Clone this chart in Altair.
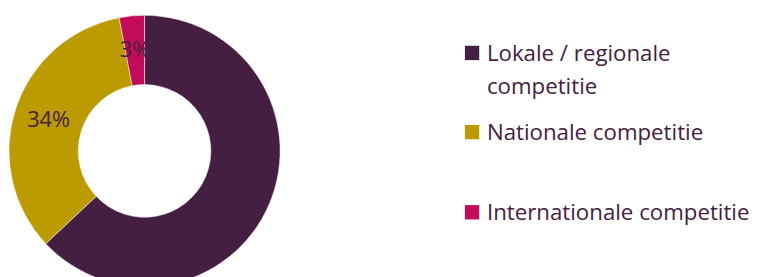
import altair as alt
import pandas as pd

categories = ["Lokale / regionale competitie", "Nationale competitie", "Internationale competitie"]
values = [63, 34, 3]
colors = ["#451f42", "#bb9b00", "#c20b5b"]
legend_lines = [["Lokale / regionale", "competitie"], ["Nationale competitie"], ["Internationale competitie"]]

TEXT = "#45203f"
FONT = "Open Sans"
CX, CY = 138, 143

df = pd.DataFrame({
    "cat": categories,
    "value": values,
    "order": list(range(len(values))),
    "label": [f"{v}%" for v in values],
})

color_scale = alt.Scale(domain=categories, range=colors)

base = alt.Chart(df).encode(
    theta=alt.Theta("value:Q", stack=True),
    order=alt.Order("order:Q"),
)
arcs = base.mark_arc(outerRadius=137, innerRadius=67, stroke="white", strokeWidth=0.5).encode(
    color=alt.Color("cat:N", scale=color_scale, legend=None),
    x=alt.value(CX), y=alt.value(CY),
)
labels = base.mark_text(radius=102, fontSize=22, font=FONT, color=TEXT).encode(
    text="label:N", x=alt.value(CX), y=alt.value(CY),
)

layers = [arcs, labels]
sym_y = [44, 124, 205]
txt_y = [52, 132, 213]
for i, cat in enumerate(categories):
    ldf = pd.DataFrame({"cat": [cat], "text": [legend_lines[i]]})
    sq = alt.Chart(ldf).mark_square(size=210, opacity=1).encode(
        x=alt.value(469), y=alt.value(sym_y[i]),
        color=alt.Color("cat:N", scale=color_scale, legend=None),
    )
    tx = alt.Chart(ldf).mark_text(
        align="left", baseline="alphabetic", fontSize=22.5, font=FONT, color=TEXT, lineHeight=33
    ).encode(x=alt.value(484), y=alt.value(txt_y[i]), text="text")
    layers += [sq, tx]

chart = alt.layer(*layers).properties(
    width=761, height=269,
    autosize=alt.AutoSizeParams(type="none"),
    padding=0,
).configure_view(stroke=None)

chart.save("out.html", embed_options={"renderer": "svg", "actions": False})
